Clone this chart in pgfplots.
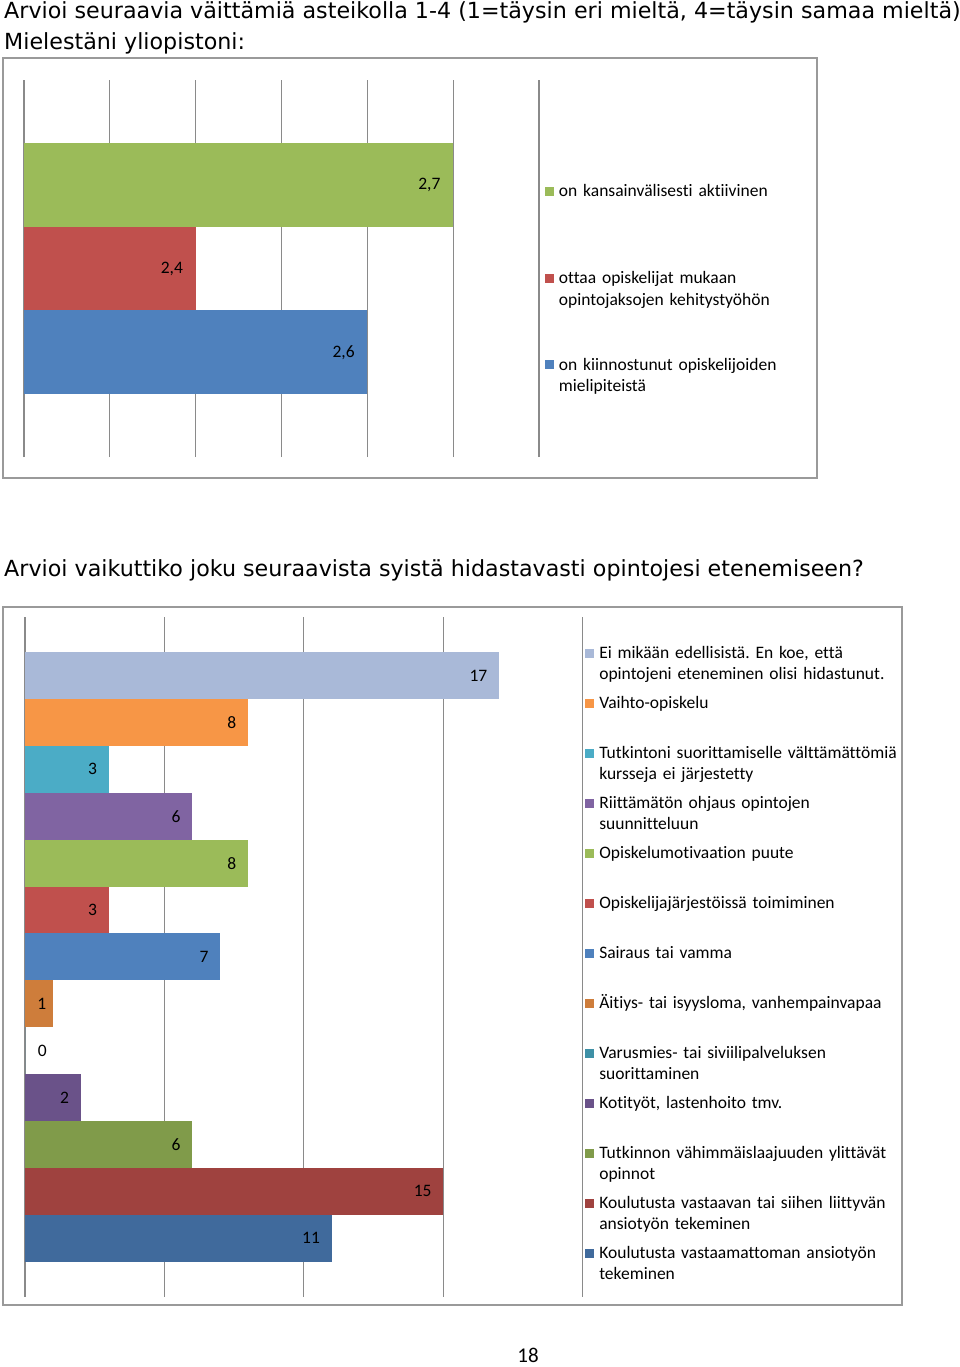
\documentclass[border=0pt]{standalone}
\usepackage{pgfplots}
\pgfplotsset{compat=1.18}
\usepackage{fontspec}
\setmainfont{Carlito}[Ligatures={NoCommon}]
\newfontfamily\titlefont{DejaVu Sans}
\definecolor{cgreen}{HTML}{9BBB59}
\definecolor{cred}{HTML}{C0504D}
\definecolor{cblue}{HTML}{4F81BD}
\definecolor{clight}{HTML}{A9B9D8}
\definecolor{corange}{HTML}{F79646}
\definecolor{caqua}{HTML}{4BACC6}
\definecolor{cpurple}{HTML}{8064A2}
\definecolor{dorange}{HTML}{CE7D3B}
\definecolor{daqua}{HTML}{3E90A6}
\definecolor{dpurple}{HTML}{6A5289}
\definecolor{dgreen}{HTML}{809B4A}
\definecolor{dred}{HTML}{9F423F}
\definecolor{dblue}{HTML}{406A9C}
\definecolor{framegray}{HTML}{9A9A9A}
\definecolor{gridgray}{HTML}{8A8A8A}
\newcommand{\chartfontA}{\fontsize{17.5}{21.7}\selectfont}
\newcommand{\chartfontB}{\fontsize{17.5}{21}\selectfont}
\frenchspacing
\pgfplotsset{
  excelbar/.style={
    scale only axis, anchor=south west,
    xbar, bar width=1, bar shift=0pt,
    ytick=\empty, xticklabels={},
    xmajorgrids, major grid style={gridgray, line width=1.3pt},
    axis line style={draw=none}, tick style={draw=none},
    nodes near coords,
    every node near coord/.append style={anchor=east, inner sep=0pt, text=black},
    /pgf/number format/assume math mode=true,
    legend image code/.code={\fill[##1] (0pt,0.7pt) rectangle (9pt,9.7pt);},
  }
}
\begin{document}
\begin{tikzpicture}
\useasboundingbox (0,0) rectangle (960pt,-1367pt);
\node[anchor=base west, inner sep=0pt, font=\titlefont\fontsize{22.2}{26}\selectfont] at (4pt,-18.3pt) {Arvioi seuraavia väittämiä asteikolla 1-4 (1=täysin eri mieltä, 4=täysin samaa mieltä)};
\node[anchor=base west, inner sep=0pt, font=\titlefont\fontsize{22.2}{26}\selectfont] at (4pt,-49.3pt) {Mielestäni yliopistoni:};
\draw[framegray, line width=1.5pt] (3pt,-58pt) rectangle (817pt,-478pt);

\begin{axis}[excelbar,
  at={(24pt,-457pt)}, width=515pt, height=377pt,
  xmin=2.2, xmax=2.8, ymin=-0.25, ymax=4.25,
  xtick={2.2,2.3,2.4,2.5,2.6,2.7,2.8},
  every node near coord/.append style={xshift=-12.5pt, font=\chartfontA},
  /pgf/number format/fixed, /pgf/number format/fixed zerofill,
  /pgf/number format/precision=1, /pgf/number format/use comma,
  legend style={at={(1.01165,0.72493)}, anchor=north west, draw=none, fill=none,
    inner sep=0pt, outer sep=0pt, column sep=5pt, row sep=0pt,
    cells={anchor=base west},
    nodes={anchor=base west, inner sep=0pt, outer sep=0pt, text width=250pt, align=left,
      font=\chartfontA, text height=13pt, text depth=73.65pt}},
]
\addplot[fill=cgreen, draw=none] coordinates {(2.7,3)};
\addlegendentry{on kansainvälisesti aktiivinen}
\addplot[fill=cred, draw=none] coordinates {(2.4,2)};
\addlegendentry{ottaa opiskelijat mukaan\newline opintojaksojen kehitystyöhön}
\addplot[fill=cblue, draw=none] coordinates {(2.6,1)};
\addlegendentry{on kiinnostunut opiskelijoiden\newline mielipiteistä}
\end{axis}

\node[anchor=base west, inner sep=0pt, font=\titlefont\fontsize{22.2}{26}\selectfont] at (4pt,-576.7pt) {Arvioi vaikuttiko joku seuraavista syistä hidastavasti opintojesi etenemiseen?};
\draw[framegray, line width=1.5pt] (3pt,-607pt) rectangle (902pt,-1305pt);

\begin{axis}[excelbar,
  at={(25pt,-1296.7pt)}, width=557.6pt, height=679.7pt,
  xmin=0, xmax=20, ymin=-0.25, ymax=14.25,
  xtick={0,5,10,15,20},
  every node near coord/.append style={xshift=-11.5pt, font=\chartfontB},
  legend style={at={(1.0043,0.95836)}, anchor=north west, draw=none, fill=none,
    inner sep=0pt, outer sep=0pt, column sep=5.3pt, row sep=0pt,
    cells={anchor=base west},
    nodes={anchor=base west, inner sep=0pt, outer sep=0pt, text width=300pt, align=left,
      font=\chartfontB, text height=13pt, text depth=37pt}},
]
\addplot[fill=clight, draw=none] coordinates {(17,13)};
\addlegendentry{Ei mikään edellisistä. En koe, että\newline opintojeni eteneminen olisi hidastunut.}
\addplot[fill=corange, draw=none] coordinates {(8,12)};
\addlegendentry{Vaihto-opiskelu}
\addplot[fill=caqua, draw=none] coordinates {(3,11)};
\addlegendentry{Tutkintoni suorittamiselle välttämättömiä\newline kursseja ei järjestetty}
\addplot[fill=cpurple, draw=none] coordinates {(6,10)};
\addlegendentry{Riittämätön ohjaus opintojen\newline suunnitteluun}
\addplot[fill=cgreen, draw=none] coordinates {(8,9)};
\addlegendentry{Opiskelumotivaation puute}
\addplot[fill=cred, draw=none] coordinates {(3,8)};
\addlegendentry{Opiskelijajärjestöissä toimiminen}
\addplot[fill=cblue, draw=none] coordinates {(7,7)};
\addlegendentry{Sairaus tai vamma}
\addplot[fill=dorange, draw=none, every node near coord/.append style={anchor=west, xshift=-4.1pt}] coordinates {(1,6)};
\addlegendentry{Äitiys- tai isyysloma, vanhempainvapaa}
\addplot[fill=daqua, draw=none, every node near coord/.append style={anchor=west, xshift=24.2pt}] coordinates {(0,5)};
\addlegendentry{Varusmies- tai siviilipalveluksen\newline suorittaminen}
\addplot[fill=dpurple, draw=none] coordinates {(2,4)};
\addlegendentry{Kotityöt, lastenhoito tmv.}
\addplot[fill=dgreen, draw=none] coordinates {(6,3)};
\addlegendentry{Tutkinnon vähimmäislaajuuden ylittävät\newline opinnot}
\addplot[fill=dred, draw=none] coordinates {(15,2)};
\addlegendentry{Koulutusta vastaavan tai siihen liittyvän\newline ansiotyön tekeminen}
\addplot[fill=dblue, draw=none] coordinates {(11,1)};
\addlegendentry{Koulutusta vastaamattoman ansiotyön\newline tekeminen}
\end{axis}

\node[anchor=base, inner sep=0pt, font=\fontsize{21}{25}\selectfont] at (528pt,-1362.5pt) {18};
\end{tikzpicture}
\end{document}
